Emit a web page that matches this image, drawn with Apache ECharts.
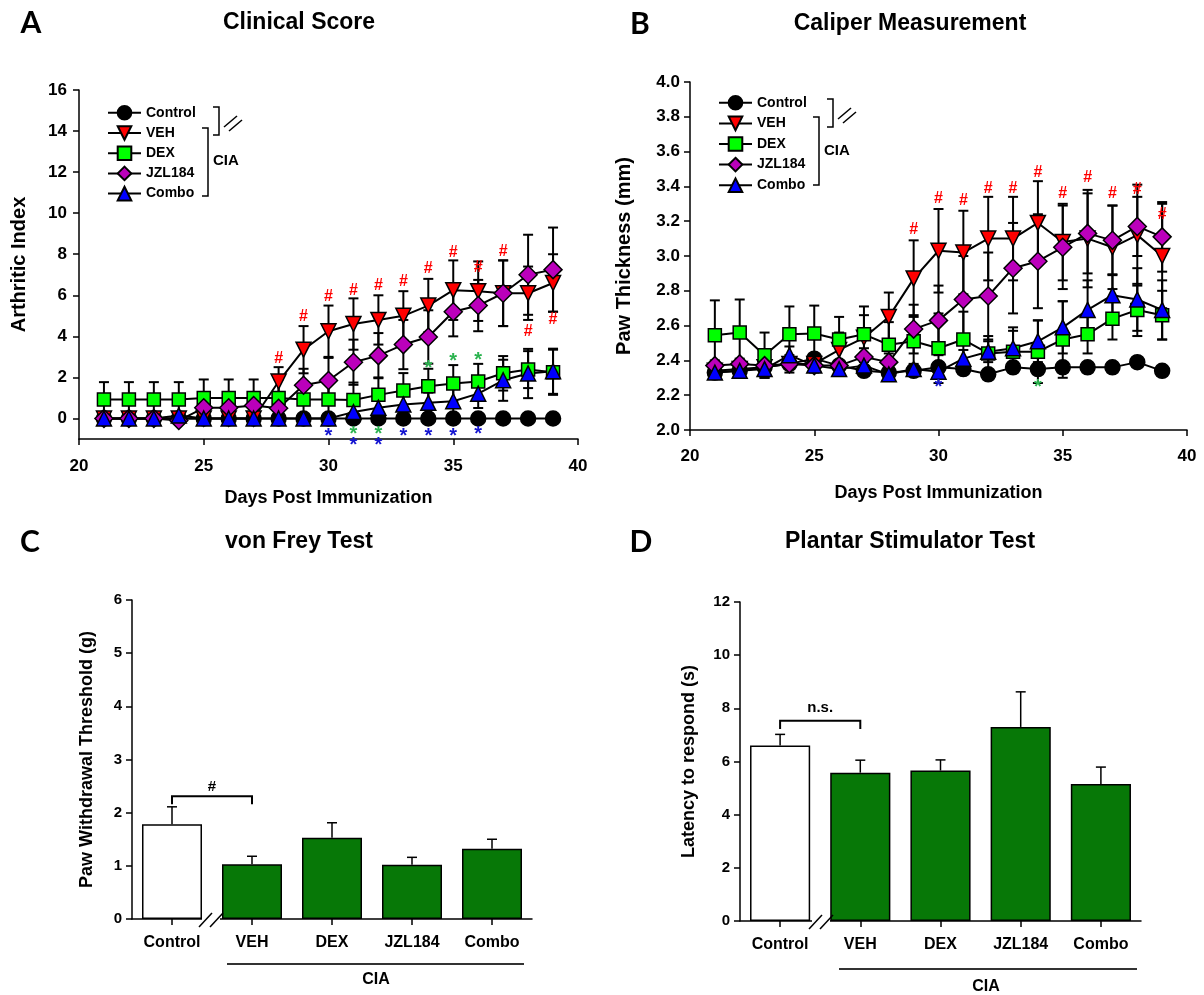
<!DOCTYPE html>
<html><head><meta charset="utf-8">
<script src="https://cdn.jsdelivr.net/npm/echarts@6/dist/echarts.min.js"></script>
<style>html,body{margin:0;padding:0;background:#fff}#c{width:1204px;height:995px}</style>
</head><body><div id="c"></div>
<script>
// ---------------- DATA ----------------
const days = [21,22,23,24,25,26,27,28,29,30,31,32,33,34,35,36,37,38,39];
const seriesNames = ['Control','VEH','DEX','JZL184','Combo'];

// Panel A: Clinical Score (Arthritic Index), mean and SEM
const aControl    = [0,0,0,0,0,0,0,0,0,0,0,0,0,0,0,0,0,0,0];
const aControlErr = [0,0,0,0,0,0,0,0,0,0,0,0,0,0,0,0,0,0,0];
const aVEH        = [0,0,0,0,0,0,0,1.8,3.35,4.25,4.6,4.8,5.0,5.5,6.25,6.2,6.1,6.1,6.6];
const aVEHErr     = [0,0,0,0,0,0,0,0.7,1.15,1.25,1.25,1.2,1.2,1.3,1.45,1.45,1.6,1.3,1.4];
const aDEX        = [0.92,0.92,0.92,0.92,1.0,1.0,1.0,1.0,0.92,0.92,0.9,1.15,1.36,1.57,1.7,1.8,2.2,2.38,2.25];
const aDEXErr     = [0.85,0.85,0.85,0.85,0.9,0.9,0.9,0.9,0.85,0.85,0.85,0.85,0.85,0.85,0.9,0.86,0.84,0.9,1.1];
const aJZL        = [0,0,0,-0.1,0.52,0.52,0.63,0.5,1.62,1.85,2.74,3.06,3.6,3.97,5.2,5.5,6.1,7.0,7.25];
const aJZLErr     = [0,0,0,0.1,0.5,0.5,0.4,0.5,0.8,1.1,1.1,1.1,1.2,1.3,1.2,1.25,1.6,1.95,2.05];
const aCombo      = [0,0,0,0.15,0,0,0,0,0,0,0.31,0.52,0.68,0.76,0.84,1.21,1.86,2.19,2.3];
const aComboErr   = [0,0,0,0.1,0,0,0,0,0,0,0.3,0.4,0.5,0.5,0.6,0.7,1.0,1.2,1.1];
const aYTicks     = [0,2,4,6,8,10,12,14,16];
const aHashDays   = [28,29,30,31,32,33,34,35,36,37,38,39];
const aHashY      = [2.9,4.97,5.95,6.24,6.47,6.68,7.28,8.1,7.33,8.14,4.25,4.8];
const aGreenStarDays = [31,32,34,35,36];
const aGreenStarY    = [-0.57,-0.57,2.63,2.95,3.03];
const aBlueStarDays  = [30,31,32,33,34,35,36];
const aBlueStarY     = [-0.7,-1.1,-1.1,-0.7,-0.7,-0.7,-0.57];

// Panel B: Caliper Measurement (Paw thickness, mm)
const bControl    = [2.33,2.34,2.36,2.38,2.41,2.37,2.34,2.33,2.34,2.36,2.35,2.32,2.36,2.35,2.36,2.36,2.36,2.39,2.34];
const bControlErr = [0.02,0.02,0.02,0.02,0.02,0.02,0.02,0.02,0.02,0.02,0.02,0.02,0.02,0.02,0.02,0.02,0.02,0.02,0.02];
const bVEH        = [2.34,2.35,2.36,2.38,2.38,2.46,2.53,2.65,2.87,3.03,3.02,3.10,3.10,3.19,3.08,3.10,3.05,3.12,3.0];
const bVEHErr     = [0.03,0.03,0.05,0.05,0.05,0.1,0.13,0.14,0.22,0.24,0.24,0.24,0.24,0.24,0.22,0.28,0.24,0.29,0.3];
const bDEX        = [2.545,2.56,2.43,2.55,2.555,2.52,2.55,2.49,2.51,2.47,2.52,2.44,2.45,2.45,2.52,2.55,2.64,2.69,2.66];
const bDEXErr     = [0.2,0.19,0.13,0.16,0.16,0.13,0.16,0.13,0.15,0.2,0.16,0.1,0.12,0.18,0.22,0.11,0.12,0.15,0.14];
const bJZL        = [2.37,2.38,2.37,2.38,2.37,2.37,2.42,2.39,2.58,2.63,2.75,2.77,2.93,2.97,3.05,3.13,3.09,3.17,3.11];
const bJZLErr     = [0.03,0.03,0.03,0.03,0.03,0.03,0.05,0.05,0.14,0.2,0.25,0.25,0.26,0.27,0.24,0.23,0.2,0.17,0.2];
const bCombo      = [2.33,2.34,2.35,2.43,2.37,2.35,2.37,2.32,2.35,2.335,2.41,2.45,2.47,2.51,2.59,2.69,2.775,2.75,2.69];
const bComboErr   = [0.02,0.02,0.05,0.05,0.03,0.02,0.03,0.02,0.03,0.03,0.05,0.06,0.12,0.12,0.15,0.17,0.12,0.18,0.17];
const bHashDays   = [29,30,31,32,33,34,35,36,37,38,39];
const bHashY      = [3.15,3.33,3.32,3.39,3.39,3.48,3.36,3.45,3.36,3.38,3.24];
const bGreenStarDays = [34];
const bGreenStarY    = [2.27];
const bBlueStarDays  = [30];
const bBlueStarY     = [2.27];

// Panels C and D: bar charts
const barCats = ['Control','VEH','DEX','JZL184','Combo'];
const cMeans  = [1.78,1.03,1.53,1.02,1.32];
const cErr    = [0.33,0.15,0.28,0.14,0.18];
const cBracket = [0,1,2.31,2.16];   // from cat, to cat, bracket y, leg end y
const cBracketLabelY = [2.48];
const dMeans  = [6.6,5.58,5.66,7.3,5.15];
const dErr    = [0.42,0.47,0.4,1.32,0.64];
const dBracket = [0,1,7.53,7.22];
const dBracketLabelY = [8.0];

// ---------------- STYLE ----------------
const FONT = '"Liberation Sans", Arial, sans-serif';
const styles = {
  'Control': {symbol:'circle', rotate:0,   color:'#000000', size:15},
  'VEH':     {symbol:'triangle', rotate:180, color:'#ff0000', size:15},
  'DEX':     {symbol:'rect', rotate:0,     color:'#00ff00', size:13},
  'JZL184':  {symbol:'diamond', rotate:0,  color:'#bb00bb', size:18},
  'Combo':   {symbol:'triangle', rotate:0, color:'#0000ff', size:15}
};
const GREEN_BAR = '#077807';
const STAR_GREEN = '#2bb34f';
const STAR_BLUE = '#1515d0';

function errRender(params, api){
  const x = api.value(0), lo = api.value(1), hi = api.value(2);
  const p1 = api.coord([x, lo]), p2 = api.coord([x, hi]);
  const hw = 5, st = {stroke:'#000', lineWidth:2};
  return {type:'group', children:[
    {type:'line', shape:{x1:p1[0],y1:p1[1],x2:p2[0],y2:p2[1]}, style:st},
    {type:'line', shape:{x1:p2[0]-hw,y1:p2[1],x2:p2[0]+hw,y2:p2[1]}, style:st},
    {type:'line', shape:{x1:p1[0]-hw,y1:p1[1],x2:p1[0]+hw,y2:p1[1]}, style:st}
  ]};
}
function errSeries(idx, name, means, errs){
  const data = [];
  days.forEach((d,i)=>{ if (errs[i] > 0) data.push([d, means[i]-errs[i], means[i]+errs[i]]); });
  return {type:'custom', name: name + ' SEM', xAxisIndex:idx, yAxisIndex:idx, silent:true, clip:false,
    data, encode:{x:0, y:[1,2]}, renderItem: errRender, animation:false};
}
function lineSeries(idx, name, means){
  const s = styles[name];
  return {type:'line', name, xAxisIndex:idx, yAxisIndex:idx, data: days.map((d,i)=>[d, means[i]]),
    symbol:s.symbol, symbolRotate:s.rotate, symbolSize:s.size, showSymbol:true,
    itemStyle:{color:s.color, borderColor:'#000', borderWidth:1.5},
    lineStyle:{color:'#000', width:2}, emphasis:{disabled:true}, animation:false, z:2};
}
function textSeries(idx, xs, ys, txt, color, size, dy){
  return {type:'custom', xAxisIndex:idx, yAxisIndex:idx, silent:true, clip:false, z:5, animation:false,
    data: xs.map((x,i)=>[x, ys[i]]),
    renderItem:(p, api)=>{
      const c = api.coord([api.value(0), api.value(1)]);
      return {type:'text', x:c[0], y:c[1]+dy, style:{text:txt, fill:color,
        font:'bold '+size+'px '+FONT, align:'center', verticalAlign:'middle'}};
    }};
}
function barErrSeries(idx, means, errs){
  return {type:'custom', xAxisIndex:idx, yAxisIndex:idx, silent:true, clip:false, z:1, animation:false,
    data: means.map((m,i)=>[i, m, m+errs[i]]),
    renderItem:(p, api)=>{
      const a = api.coord([api.value(0), api.value(1)]), b = api.coord([api.value(0), api.value(2)]);
      const st = {stroke:'#000', lineWidth:1.5};
      return {type:'group', children:[
        {type:'line', shape:{x1:a[0],y1:a[1],x2:b[0],y2:b[1]}, style:st},
        {type:'line', shape:{x1:b[0]-5,y1:b[1],x2:b[0]+5,y2:b[1]}, style:st}
      ]};
    }};
}
function bracketSeries(idx, br, labelY, label){
  return {type:'custom', xAxisIndex:idx, yAxisIndex:idx, silent:true, clip:false, z:5, animation:false,
    data: [[br[0], br[1], br[2], br[3], labelY[0]]],
    renderItem:(p, api)=>{
      const l = api.coord([api.value(0), api.value(2)]), r = api.coord([api.value(1), api.value(2)]);
      const ll = api.coord([api.value(0), api.value(3)]), rl = api.coord([api.value(1), api.value(3)]);
      const ty = api.coord([api.value(0), api.value(4)])[1];
      const tx = (l[0] + r[0]) / 2;
      return {type:'group', children:[
        {type:'polyline', shape:{points:[[ll[0],ll[1]],[l[0],l[1]],[r[0],r[1]],[rl[0],rl[1]]]},
          style:{stroke:'#000', lineWidth:2, fill:null}},
        {type:'text', x:tx, y:ty, style:{text:label, fill:'#000', font:'bold 15px '+FONT,
          align:'center', verticalAlign:'middle'}}
      ]};
    }};
}
const axisBase = {
  axisLine:{show:true, onZero:false, lineStyle:{color:'#000', width:1.5}},
  axisTick:{show:true, inside:false, length:6, lineStyle:{color:'#000', width:1.5}},
  splitLine:{show:false}
};
function lbl(size){ return {color:'#000', fontWeight:'bold', fontSize:size, fontFamily:FONT}; }

// ---------------- OPTION ----------------
const series = [];
const aM = [aControl, aVEH, aDEX, aJZL, aCombo], aE = [aControlErr, aVEHErr, aDEXErr, aJZLErr, aComboErr];
const bM = [bControl, bVEH, bDEX, bJZL, bCombo], bE = [bControlErr, bVEHErr, bDEXErr, bJZLErr, bComboErr];
seriesNames.forEach((n,i)=>{ series.push(errSeries(0, n, aM[i], aE[i])); series.push(lineSeries(0, n, aM[i])); });
seriesNames.forEach((n,i)=>{ series.push(errSeries(1, n, bM[i], bE[i])); series.push(lineSeries(1, n, bM[i])); });
series.push(textSeries(0, aHashDays, aHashY, '#', '#ff0000', 16, 0));
series.push(textSeries(0, aGreenStarDays, aGreenStarY, '*', STAR_GREEN, 20, 4));
series.push(textSeries(0, aBlueStarDays, aBlueStarY, '*', STAR_BLUE, 20, 4));
series.push(textSeries(1, bHashDays, bHashY, '#', '#ff0000', 16, 0));
series.push(textSeries(1, bGreenStarDays, bGreenStarY, '*', STAR_GREEN, 20, 4));
series.push(textSeries(1, bBlueStarDays, bBlueStarY, '*', STAR_BLUE, 20, 4));

[[2, cMeans, cErr, cBracket, cBracketLabelY, '#'], [3, dMeans, dErr, dBracket, dBracketLabelY, 'n.s.']].forEach(p=>{
  const idx = p[0];
  series.push(barErrSeries(idx, p[1], p[2]));
  series.push({type:'bar', xAxisIndex:idx, yAxisIndex:idx, barWidth:'75%', animation:false, z:2,
    data: p[1].map((v,i)=>({value:v, itemStyle:{color: i===0 ? '#ffffff' : GREEN_BAR, borderColor:'#000', borderWidth:1.5}})),
    emphasis:{disabled:true}});
  series.push(bracketSeries(idx, p[3], p[4], p[5]));
});

function gtext(x, y, text, size, opts){
  return Object.assign({type:'text', x, y, silent:true, style:{text, fill:'#000',
    font:'bold '+size+'px '+FONT, align:'center', verticalAlign:'middle'}}, opts||{});
}
function gline(x1,y1,x2,y2,w,color){ return {type:'line', silent:true, shape:{x1,y1,x2,y2}, style:{stroke:color||'#000', lineWidth:w||1.5}}; }
function gpoly(points){ return {type:'polyline', silent:true, shape:{points}, style:{stroke:'#000', lineWidth:1.5, fill:null}}; }
function letter(x,y,t){ return {type:'text', x, y, silent:true, style:{text:t, fill:'#000', fontFamily:'Lato', fontWeight:'bold', fontSize:30, align:'center', verticalAlign:'middle'}}; }

const graphic = [
  letter(31,23,'A'), gtext(299,23,'Clinical Score',23),
  letter(640,24,'B'), gtext(910,24,'Caliper Measurement',23),
  letter(30,542,'C'), gtext(299,542,'von Frey Test',23),
  letter(641,542,'D'), gtext(910,542,'Plantar Stimulator Test',23),
  // panel A legend brackets
  gpoly([[202,128],[208,128],[208,196],[202,196]]),
  gpoly([[213,107],[219,107],[219,135],[213,135]]),
  gline(224,127,237,116), gline(229,131,242,120),
  gtext(213,161,'CIA',14,{style:{text:'CIA', fill:'#000', font:'bold 15px '+FONT, align:'left', verticalAlign:'middle'}}),
  // panel B legend brackets
  gpoly([[813,117],[819,117],[819,185],[813,185]]),
  gpoly([[827,99],[833,99],[833,127],[827,127]]),
  gline(838,119,851,108), gline(843,123,856,112),
  gtext(824,151,'CIA',14,{style:{text:'CIA', fill:'#000', font:'bold 15px '+FONT, align:'left', verticalAlign:'middle'}}),
  // panel C break + CIA group
  {type:'rect', silent:true, shape:{x:202, y:916, width:18, height:6}, style:{fill:'#fff'}, z:100},
  Object.assign(gline(199,927,212,913), {z:101}), Object.assign(gline(210,927,223,913), {z:101}),
  gline(227,964,524,964,2,'#333'), gtext(376,980,'CIA',16),
  // panel D break + CIA group
  {type:'rect', silent:true, shape:{x:812, y:918, width:18, height:6}, style:{fill:'#fff'}, z:100},
  Object.assign(gline(809,929,822,915), {z:101}), Object.assign(gline(820,929,833,915), {z:101}),
  gline(839,969,1137,969,2,'#333'), gtext(986,987,'CIA',16)
];

const legendBase = {orient:'vertical', itemWidth:33, itemHeight:17, itemGap:4.6, padding:0, data:seriesNames,
  textStyle:{color:'#000', fontWeight:'bold', fontSize:14, fontFamily:FONT}, selectedMode:false};

const option = {
  animation:false,
  backgroundColor:'#fff',
  grid:[
    {left:79, top:90, width:499, height:349},
    {left:690, top:82, width:497, height:348},
    {left:132, top:600, width:400, height:319},
    {left:740, top:602, width:401, height:319}
  ],
  legend:[
    Object.assign({}, legendBase, {left:107, top:105}),
    Object.assign({}, legendBase, {left:718, top:95, itemGap:5})
  ],
  xAxis:[
    Object.assign({}, axisBase, {type:'value', gridIndex:0, min:20, max:40, interval:5,
      axisLabel:Object.assign(lbl(17), {margin:19}),
      name:'Days Post Immunization', nameLocation:'middle', nameGap:50, nameTextStyle:lbl(18)}),
    Object.assign({}, axisBase, {type:'value', gridIndex:1, min:20, max:40, interval:5,
      axisLabel:Object.assign(lbl(17), {margin:18}),
      name:'Days Post Immunization', nameLocation:'middle', nameGap:54, nameTextStyle:lbl(18)}),
    Object.assign({}, axisBase, {type:'category', gridIndex:2, data:barCats,
      axisTick:{show:true, alignWithLabel:true, length:6, lineStyle:{color:'#000', width:1.5}},
      axisLabel:Object.assign(lbl(16), {margin:16})}),
    Object.assign({}, axisBase, {type:'category', gridIndex:3, data:barCats,
      axisTick:{show:true, alignWithLabel:true, length:6, lineStyle:{color:'#000', width:1.5}},
      axisLabel:Object.assign(lbl(16), {margin:16})})
  ],
  yAxis:[
    Object.assign({}, axisBase, {type:'value', gridIndex:0, min:-1, max:16,
      axisLabel:Object.assign(lbl(17), {customValues:aYTicks, margin:12}),
      axisTick:{show:true, length:6, customValues:aYTicks, lineStyle:{color:'#000', width:1.5}},
      name:'Arthritic Index', nameLocation:'middle', nameGap:50, nameTextStyle:lbl(20)}),
    Object.assign({}, axisBase, {type:'value', gridIndex:1, min:2.0, max:4.0, interval:0.2,
      axisLabel:Object.assign(lbl(17), {margin:10, formatter:v=>v.toFixed(1)}),
      name:'Paw Thickness (mm)', nameLocation:'middle', nameGap:56, nameTextStyle:lbl(20)}),
    Object.assign({}, axisBase, {type:'value', gridIndex:2, min:0, max:6, interval:1,
      axisLabel:Object.assign(lbl(15), {margin:10}),
      name:'Paw Withdrawal Threshold (g)', nameLocation:'middle', nameGap:36, nameTextStyle:lbl(18)}),
    Object.assign({}, axisBase, {type:'value', gridIndex:3, min:0, max:12, interval:2,
      axisLabel:Object.assign(lbl(15), {margin:10}),
      name:'Latency to respond (s)', nameLocation:'middle', nameGap:42, nameTextStyle:lbl(18)})
  ],
  series,
  graphic
};
const chart = echarts.init(document.getElementById('c'), null, {renderer:'canvas'});
chart.setOption(option);
</script>
</body></html>
